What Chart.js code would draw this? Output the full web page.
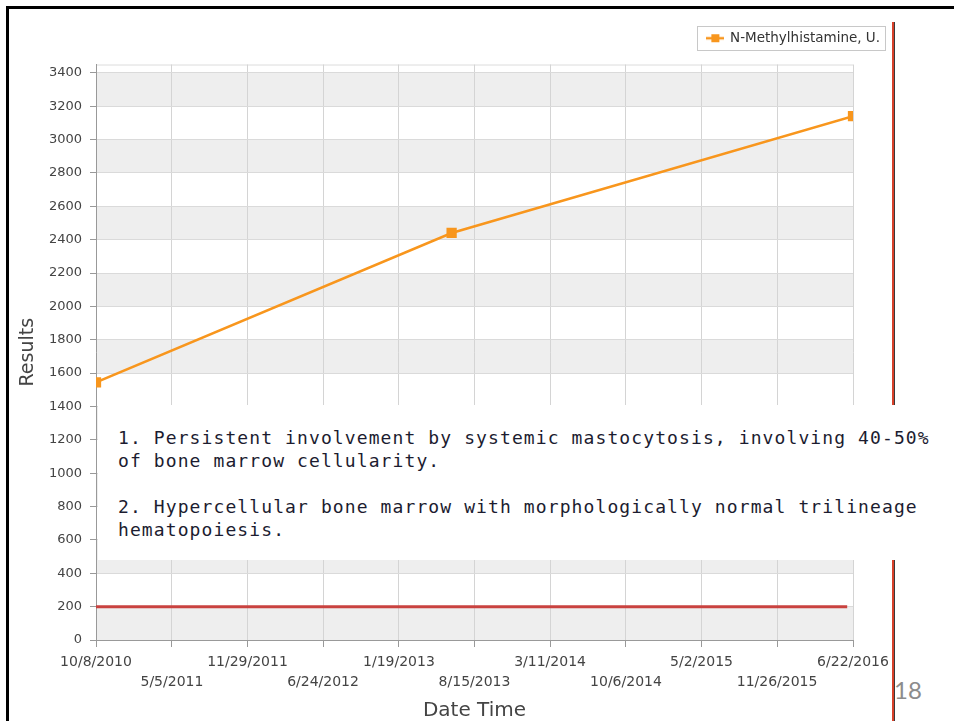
<!DOCTYPE html>
<html>
<head>
<meta charset="utf-8">
<script src="https://cdn.jsdelivr.net/npm/chart.js@4.4.1/dist/chart.umd.min.js"></script>
<style>
  body { margin: 0; background: #fff; width: 954px; height: 721px; overflow: hidden; position: relative; }
  #frameTop { position: absolute; left: 6px; top: 6px; width: 948px; height: 3px; background: #000; }
  #frameLeft { position: absolute; left: 6px; top: 6px; width: 3px; height: 715px; background: #000; }
  #redRule { position: absolute; left: 892px; top: 22px; width: 2px; height: 699px; background: #d8412a; border-right: 1px solid #3a3a3a; }
  #labChart { position: absolute; left: 10px; top: 10px; }
  #note {
    position: absolute; left: 98px; top: 405px; width: 847px; height: 155px;
    background: #fff; box-sizing: border-box; padding: 21px 0 0 20px;
    font-family: "DejaVu Sans Mono", monospace; font-size: 18px; letter-spacing: 1.1px;
    line-height: 23px; color: #1c1c30; white-space: pre;
  }
  #pageNo { position: absolute; left: 894px; top: 678px; font-family: "Liberation Sans Narrow", Lato, sans-serif; font-size: 24px; line-height: 24px; color: #8c8c8c; }
</style>
</head>
<body>
<div id="frameTop"></div>
<div id="frameLeft"></div>
<canvas id="labChart" width="882" height="711"></canvas>
<div id="redRule"></div>
<div id="note">1. Persistent involvement by systemic mastocytosis, involving 40-50%
of bone marrow cellularity.

2. Hypercellular bone marrow with morphologically normal trilineage
hematopoiesis.</div>
<div id="pageNo">18</div>
<script>
// axis ticks
const tickDates = ['10/8/2010', '5/5/2011', '11/29/2011', '6/24/2012', '1/19/2013', '8/15/2013',
                   '3/11/2014', '10/6/2014', '5/2/2015', '11/26/2015', '6/22/2016'];
const yTickValues = [0, 200, 400, 600, 800, 1000, 1200, 1400, 1600, 1800, 2000, 2200, 2400, 2600, 2800, 3000, 3200, 3400];
const yMax = 3450;

// series
const seriesName = 'N-Methylhistamine, U.';
const resultDates = ['10/8/2010', '6/13/2013', '6/22/2016'];
const resultValues = [1545, 2440, 3140];

// reference limit line
const limitDates = ['10/8/2010', '6/6/2016'];
const limitValues = [200, 200];

const orange = '#f8961d';
const limitRed = '#c9423f';

function dayOf(s) {
    const p = s.split('/').map(Number);
    return (Date.UTC(p[2], p[0] - 1, p[1]) - Date.UTC(2010, 9, 8)) / 86400000;
}

// legend marker: line with a square in the middle
const marker = document.createElement('canvas');
marker.width = 18;
marker.height = 10;
const mctx = marker.getContext('2d');
mctx.strokeStyle = orange;
mctx.lineWidth = 2.5;
mctx.beginPath();
mctx.moveTo(0, 5);
mctx.lineTo(18, 5);
mctx.stroke();
mctx.fillStyle = orange;
mctx.fillRect(5, 1, 8, 8);

// alternating grey bands behind the grid, plus legend frame
const bandPlugin = {
    id: 'bands',
    beforeDraw(chart) {
        const {ctx, chartArea} = chart;
        const y = chart.scales.y;
        ctx.save();
        ctx.fillStyle = '#fff';
        ctx.fillRect(0, 0, chart.width, chart.height);
        ctx.fillStyle = '#eeeeee';
        yTickValues.forEach((v, i) => {
            if (i % 2 === 0 && i < yTickValues.length - 1) {
                const top = y.getPixelForValue(yTickValues[i + 1]);
                const bottom = y.getPixelForValue(v);
                ctx.fillRect(chartArea.left, top, chartArea.right - chartArea.left, bottom - top);
            }
        });
        ctx.strokeStyle = '#dcdcdc';
        ctx.lineWidth = 1;
        ctx.beginPath();
        ctx.moveTo(chartArea.left, chartArea.top + 0.5);
        ctx.lineTo(chartArea.right, chartArea.top + 0.5);
        ctx.stroke();
        ctx.restore();
    },
    afterDraw(chart) {
        const box = chart.legend.legendHitBoxes[0];
        if (!box) return;
        const ctx = chart.ctx;
        ctx.save();
        ctx.strokeStyle = '#c8c8c8';
        ctx.lineWidth = 1;
        ctx.strokeRect(Math.round(box.left - 10) + 0.5, Math.round(box.top - 6) + 0.5, Math.round(box.width + 15), 24);
        ctx.restore();
    }
};

const ctx = document.getElementById('labChart').getContext('2d');
window.labChart = new Chart(ctx, {
    type: 'line',
    data: {
        datasets: [{
            label: seriesName,
            data: resultDates.map((d, i) => ({x: dayOf(d), y: resultValues[i]})),
            borderColor: orange,
            backgroundColor: orange,
            borderWidth: 2.5,
            pointStyle: 'rect',
            pointRadius: 5.5,
            clip: 0
        }, {
            label: 'limit',
            data: limitDates.map((d, i) => ({x: dayOf(d), y: limitValues[i]})),
            borderColor: limitRed,
            borderWidth: 3,
            pointRadius: 0
        }]
    },
    options: {
        responsive: false,
        animation: false,
        layout: {padding: {top: 9.5, left: 0, right: 0, bottom: 0}},
        plugins: {
            tooltip: {enabled: false},
            title: {display: true, text: '', font: {size: 9.5, lineHeight: 1}, padding: 0},
            legend: {
                position: 'top',
                align: 'end',
                weight: 3000,
                labels: {
                    usePointStyle: true,
                    pointStyle: marker,
                    pointStyleWidth: 16,
                    padding: 12,
                    color: '#333',
                    font: {family: 'DejaVu Sans', size: 13.5},
                    filter: item => item.datasetIndex === 0
                }
            }
        },
        scales: {
            x: {
                type: 'linear',
                min: 0,
                max: dayOf(tickDates[tickDates.length - 1]),
                afterFit: s => { s.height = 81; s.paddingRight = 0; },
                afterBuildTicks: s => { s.ticks = tickDates.map(d => ({value: dayOf(d)})); },
                ticks: {
                    autoSkip: false,
                    maxRotation: 0,
                    padding: 5,
                    color: '#444',
                    font: {family: 'DejaVu Sans', size: 14, lineHeight: '20px'},
                    callback: (v, i) => i % 2 ? ['', tickDates[i]] : tickDates[i]
                },
                grid: {color: '#d4d4d4', tickColor: '#999', tickLength: 7},
                border: {color: '#999'},
                title: {display: true, text: 'Date Time', color: '#444',
                        font: {family: 'DejaVu Sans', size: 20, lineHeight: 1}, padding: {top: 0, bottom: 0}}
            },
            y: {
                type: 'linear',
                min: 0,
                max: yMax,
                afterFit: s => { s.width = 86; },
                afterBuildTicks: s => { s.ticks = yTickValues.map(v => ({value: v})); },
                ticks: {padding: 8, color: '#444', font: {family: 'DejaVu Sans', size: 13},
                        callback: v => String(v)},
                grid: {color: '#dadada', tickColor: '#999', tickLength: 6},
                border: {color: '#999'},
                title: {display: true, text: 'Results', color: '#444',
                        font: {family: 'DejaVu Sans', size: 19, lineHeight: 1.2}, padding: {top: 7, bottom: 0}}
            },
            spacer: {
                axis: 'y',
                position: 'right',
                display: true,
                afterFit: s => { s.width = 39; },
                grid: {display: false},
                ticks: {display: false},
                border: {display: false}
            }
        }
    },
    plugins: [bandPlugin]
});
</script>
</body>
</html>
